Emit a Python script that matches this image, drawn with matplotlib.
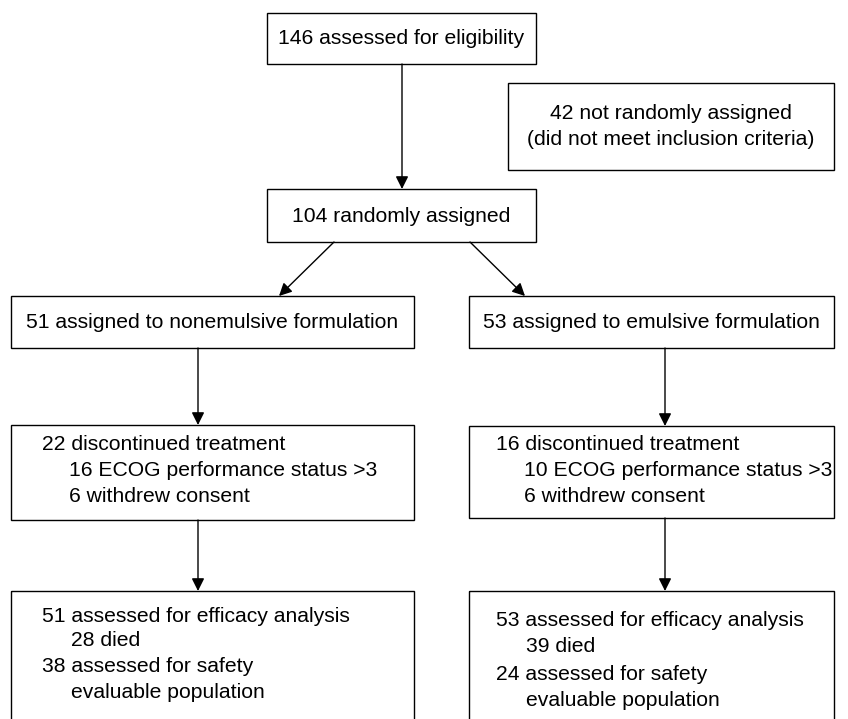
import matplotlib.pyplot as plt
from matplotlib.patches import Rectangle, FancyArrowPatch

plt.rcParams['font.family'] = ['Liberation Sans', 'DejaVu Sans']

# box texts
top_text = '146 assessed for eligibility'
excluded_text = '42 not randomly assigned\n(did not meet inclusion criteria)'
random_text = '104 randomly assigned'
arm_labels = ['51 assigned to nonemulsive formulation', '53 assigned to emulsive formulation']
discontinued = [
    ['22 discontinued treatment', '16 ECOG performance status >3', '6 withdrew consent'],
    ['16 discontinued treatment', '10 ECOG performance status >3', '6 withdrew consent'],
]
analysed = [
    ['51 assessed for efficacy analysis', '28 died', '38 assessed for safety', 'evaluable population'],
    ['53 assessed for efficacy analysis', '39 died', '24 assessed for safety', 'evaluable population'],
]
indent_disc = [0, 1, 1]
indent_anal = [0, 1, 0, 1]

fig = plt.figure(figsize=(8.48, 7.19), dpi=100)
ax = fig.add_axes([0, 0, 1, 1])
ax.set_xlim(0, 848)
ax.set_ylim(719, 0)
ax.axis('off')

FS = 15.2
LW = 1.0


def box(x0, y0, x1, y1):
    ax.add_patch(Rectangle((x0, y0), x1 - x0, y1 - y0, fill=False,
                           edgecolor='black', linewidth=LW))


def arrow(x0, y0, x1, y1):
    ax.add_patch(FancyArrowPatch((x0, y0), (x1, y1), arrowstyle='-|>',
                                 mutation_scale=19, color='black',
                                 linewidth=LW, shrinkA=0, shrinkB=0))


# top part
box(267, 13, 536, 64)
ax.text(401.5, 39, top_text, ha='center', va='center', fontsize=FS)
box(508, 83, 834, 170)
ax.text(671, 126.5, excluded_text, ha='center', va='center', fontsize=FS,
        linespacing=1.45)
arrow(402, 64, 402, 189)
box(267, 189, 536, 242)
ax.text(401.5, 216, random_text, ha='center', va='center', fontsize=FS)
arrow(334, 242, 279, 296)
arrow(470, 242, 525, 296)

cols = [(11, 414, 198), (469, 834, 665)]
disc_box = [(425, 520), (426, 518)]
disc_y = [[445, 470, 496], [445, 470, 496]]
anal_y = [[616, 641, 667, 692], [620, 647, 674, 700]]
text_x = [(42, 69), (496, 524)]

for i, (x0, x1, xm) in enumerate(cols):
    box(x0, 296, x1, 348)
    ax.text((x0 + x1) / 2, 322.5, arm_labels[i], ha='center', va='center', fontsize=FS)
    arrow(xm, 348, xm, disc_box[i][0])
    box(x0, disc_box[i][0], x1, disc_box[i][1])
    for line, ind, y in zip(discontinued[i], indent_disc, disc_y[i]):
        ax.text(text_x[i][ind], y, line, ha='left', va='center', fontsize=FS)
    arrow(xm, disc_box[i][1], xm, 591)
    box(x0, 591, x1, 740)
    for line, ind, y in zip(analysed[i], indent_anal, anal_y[i]):
        ax.text(text_x[i][ind] + (2 if ind else 0), y, line, ha='left', va='center', fontsize=FS)

fig.savefig('out.png', dpi=100)
